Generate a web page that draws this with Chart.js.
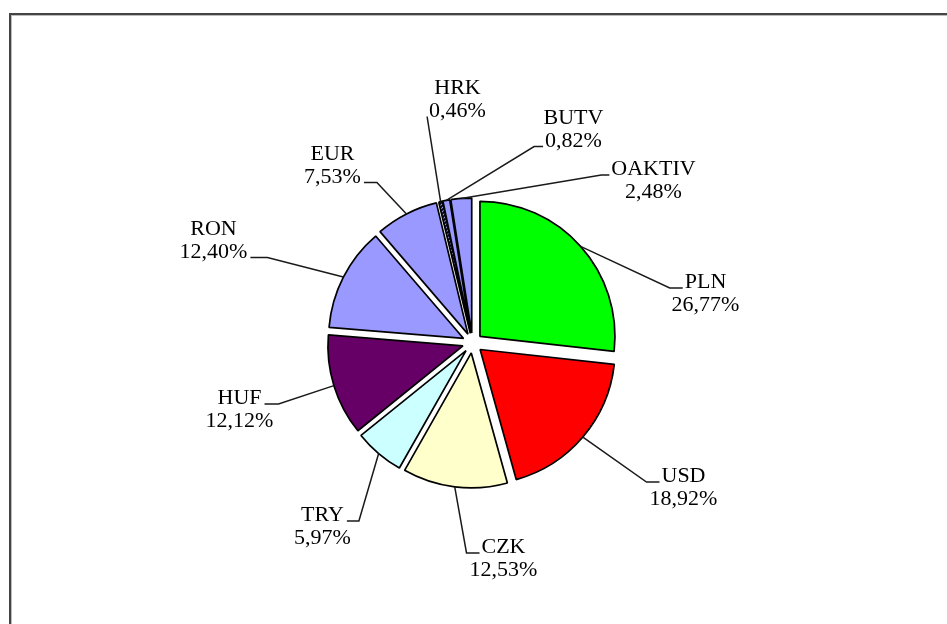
<!DOCTYPE html>
<html>
<head>
<meta charset="utf-8">
<script src="https://cdn.jsdelivr.net/npm/chart.js@4/dist/chart.umd.min.js"></script>
<style>
  html, body { margin: 0; padding: 0; background: #fff; }
  #okvir { width: 947px; height: 624px; position: relative; }
</style>
</head>
<body>
<div id="okvir"><canvas id="grafikon"></canvas></div>
<script>
const valute = ["PLN", "USD", "CZK", "TRY", "HUF", "RON", "EUR", "HRK", "BUTV", "OAKTIV"];
const udjeli = [26.77, 18.92, 12.53, 5.97, 12.12, 12.40, 7.53, 0.46, 0.82, 2.48];

// HRK nema boju nego šrafuru (vidi srafura())
const boje = ["#00ff00", "#ff0000", "#ffffcc", "#ccffff", "#660066", "#9999ff", "#9999ff", null, "#9999ff", "#9999ff"];

// natpisi: pomak središta teksta od središta kruga [dx, dy], strana na koju ide crta,
// redak na koji se crta veže i duljina vodoravnog repa
const natpisi = [
  [233, -55, "L", 1, 13],
  [211, 139, "L", 1, 13],
  [31, 210, "L", 1, 13],
  [-150, 178, "D", 1, 12],
  [-233, 61, "D", 1, 14],
  [-259, -108, "D", 2, 17],
  [-140, -183, "D", 2, 13],
  [-15, -249, "L", 2, 0],
  [101, -219, "L", 2, 9],
  [181, -168, "L", 1, 8]
];

const razmak = 10;     // koliko je svaka kriška izvučena iz središta
const visinaRetka = 22.5;

function postotak(v) {
  return v.toFixed(2).replace(".", ",") + "%";
}

function srafura() {
  const c = document.createElement("canvas");
  c.width = 4; c.height = 4;
  const g = c.getContext("2d");
  g.fillStyle = "#9999ff";
  g.fillRect(0, 0, 4, 4);
  g.strokeStyle = "#000";
  g.lineWidth = 1.8;
  g.beginPath();
  g.moveTo(-1, 5); g.lineTo(5, -1);
  g.moveTo(-1, 1); g.lineTo(1, -1);
  g.moveTo(3, 5); g.lineTo(5, 3);
  g.stroke();
  return g.createPattern(c, "repeat");
}

const pozadina = boje.map(b => b || srafura());

// pomiče svaku krišku prema van po njenom središnjem kutu
const rastav = {
  id: "rastav",
  afterDatasetUpdate(chart, args) {
    args.meta.data.forEach(arc => {
      const kut = (arc.startAngle + arc.endAngle) / 2;
      arc.x += Math.cos(kut) * razmak;
      arc.y += Math.sin(kut) * razmak;
    });
  }
};

// tanki okvir gore i lijevo
const okvir = {
  id: "okvir",
  beforeDraw(chart) {
    const ctx = chart.ctx;
    ctx.save();
    ctx.fillStyle = "#fff";
    ctx.fillRect(0, 0, chart.width, chart.height);
    ctx.fillStyle = "#444";
    ctx.fillRect(9, 13, chart.width - 9, 2);
    ctx.fillRect(9, 13, 2, chart.height - 13);
    ctx.fillStyle = "#bbb";
    ctx.fillRect(11, 15, chart.width - 11, 1);
    ctx.fillRect(11, 15, 1, chart.height - 15);
    ctx.restore();
  }
};

const oznake = {
  id: "oznake",
  afterDatasetsDraw(chart) {
    const ctx = chart.ctx;
    const area = chart.chartArea;
    const sx = (area.left + area.right) / 2;
    const sy = (area.top + area.bottom) / 2;
    const arcs = chart.getDatasetMeta(0).data;
    ctx.save();
    ctx.font = "22px 'Liberation Serif', 'Times New Roman', serif";
    ctx.fillStyle = "#000";
    ctx.strokeStyle = "#1a1a1a";
    ctx.lineWidth = 1.5;
    arcs.forEach((arc, i) => {
      const [dx, dy, strana, redak, rep] = natpisi[i];
      const tx = sx + dx, ty = sy + dy;
      const redovi = [valute[i], postotak(udjeli[i])];
      const w = ctx.measureText(redovi[redak - 1]).width;
      const by = ty + (redak - 1) * visinaRetka;
      const px = strana === "L" ? tx - w / 2 - 2 : tx + w / 2 + 3;
      const ex = strana === "L" ? px - rep : px + rep;
      const kut = (arc.startAngle + arc.endAngle) / 2;
      const ax = arc.x + Math.cos(kut) * arc.outerRadius;
      const ay = arc.y + Math.sin(kut) * arc.outerRadius;
      ctx.beginPath();
      ctx.moveTo(ax, ay);
      ctx.lineTo(ex, by);
      ctx.lineTo(px, by);
      ctx.stroke();
      ctx.textAlign = "center";
      ctx.textBaseline = "alphabetic";
      redovi.forEach((t, k) => ctx.fillText(t, tx, ty + k * visinaRetka));
    });
    ctx.restore();
  }
};

new Chart(document.getElementById("grafikon"), {
  type: "pie",
  data: {
    labels: valute,
    datasets: [{
      data: udjeli,
      backgroundColor: pozadina,
      borderColor: "#000",
      borderWidth: 1.7,
      offset: 0,
      hoverOffset: 0
    }]
  },
  options: {
    responsive: true,
    maintainAspectRatio: false,
    animation: false,
    events: [],
    radius: 135,
    layout: { padding: { left: 0, right: 2, top: 62, bottom: 0 } },
    plugins: {
      legend: { display: false },
      tooltip: { enabled: false }
    }
  },
  plugins: [okvir, rastav, oznake]
});
</script>
</body>
</html>
